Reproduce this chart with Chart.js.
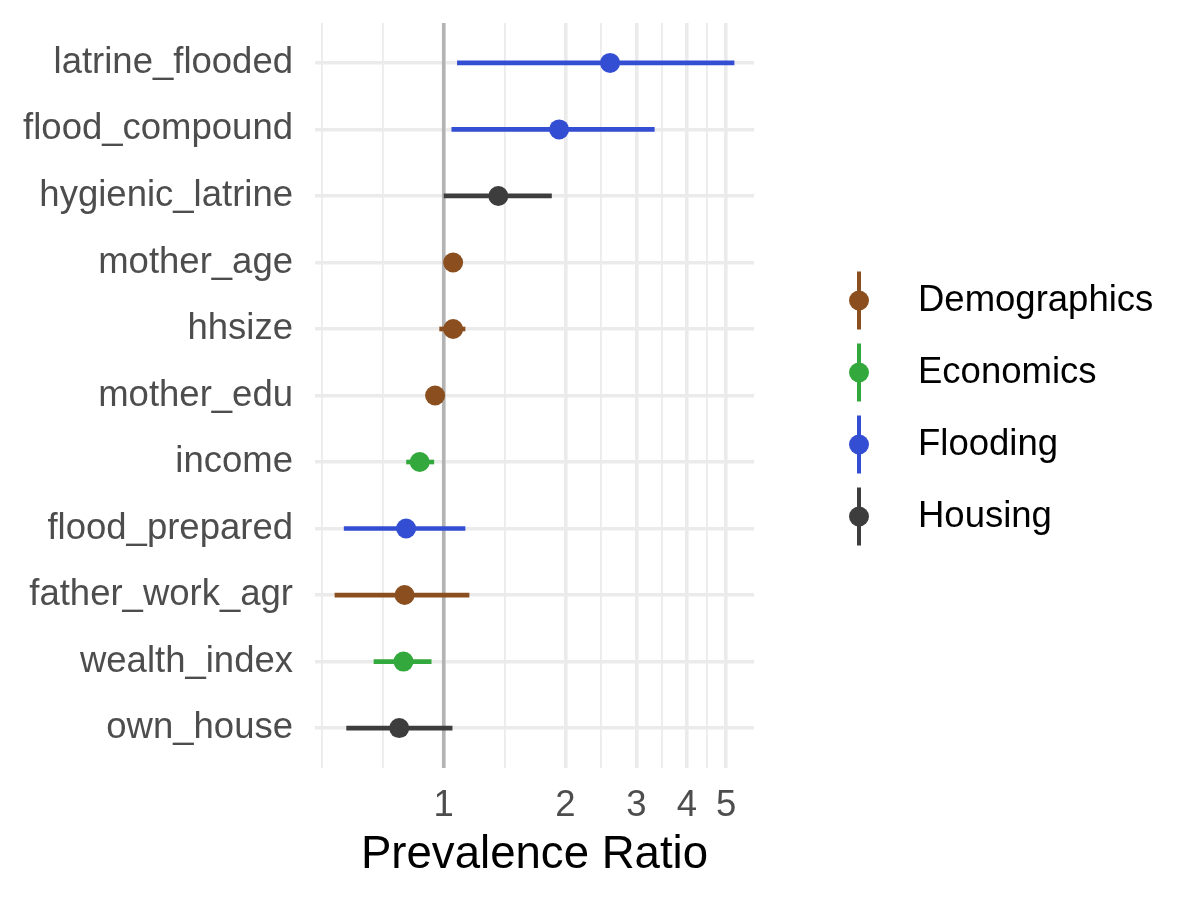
<!DOCTYPE html>
<html>
<head>
<meta charset="utf-8">
<script src="https://cdn.jsdelivr.net/npm/chart.js@4/dist/chart.umd.min.js"></script>
<style>
  html, body { margin: 0; padding: 0; background: #ffffff; }
  #wrap { width: 1200px; height: 900px; }
</style>
</head>
<body>
<div id="wrap"><canvas id="c" width="1200" height="900"></canvas></div>
<script>
// ---- data (top-to-bottom order) ----
const variables = ['latrine_flooded','flood_compound','hygienic_latrine','mother_age','hhsize','mother_edu','income','flood_prepared','father_work_agr','wealth_index','own_house'];
const groupOf   = ['Flooding','Flooding','Housing','Demographics','Demographics','Demographics','Economics','Flooding','Demographics','Economics','Housing'];
const estimate  = [2.58, 1.93, 1.365, 1.055, 1.055, 0.952, 0.872, 0.807, 0.800, 0.795, 0.776];
const lowerCI   = [1.081, 1.047, 1.002, 1.035, 0.977, 0.930, 0.809, 0.567, 0.538, 0.672, 0.575];
const upperCI   = [5.23, 3.32, 1.848, 1.075, 1.129, 0.975, 0.945, 1.129, 1.155, 0.931, 1.049];

const groupNames  = ['Demographics','Economics','Flooding','Housing'];
const groupColors = ['#8B4F1F','#33A93D','#344ED3','#3D3D3D'];

const xTickValues = [1, 2, 3, 4, 5];
const xTickLabels = ['1', '2', '3', '4', '5'];
const referenceValue = 1;
const xTitle = 'Prevalence Ratio';

// ---- helpers ----
const FONT = "'Liberation Sans', Arial, Helvetica, sans-serif";
const colorOf = g => groupColors[groupNames.indexOf(g)];

// minor breaks like ggplot (midpoints in log space, extended one step below)
const logMaj = xTickValues.map(Math.log10);
const stepL = logMaj[1] - logMaj[0];
const extMaj = [logMaj[0] - stepL, ...logMaj];
const minorLogs = [];
for (let i = 0; i < extMaj.length - 1; i++) {
  minorLogs.push(extMaj[i], (extMaj[i] + extMaj[i + 1]) / 2);
}
const gridValues = [...new Set([...minorLogs.map(v => +Math.pow(10, v).toFixed(6)), ...xTickValues])].sort((a, b) => a - b);

// x limits: data range in log space expanded by 5%
const lmin = Math.log10(Math.min(...lowerCI));
const lmax = Math.log10(Math.max(...upperCI));
const lpad = (lmax - lmin) * 0.05;
const xMin = Math.pow(10, lmin - lpad);
const xMax = Math.pow(10, lmax + lpad);

// ---- datasets ----
const ciDataset = {
  type: 'bar',
  indexAxis: 'y',
  data: variables.map((v, i) => ({ y: i, x: [lowerCI[i], upperCI[i]] })),
  backgroundColor: groupOf.map(colorOf),
  borderWidth: 0,
  barThickness: 4,
  grouped: false,
  order: 2
};
const pointDatasets = groupNames.map((g, gi) => ({
  type: 'scatter',
  label: g,
  data: variables.map((v, i) => groupOf[i] === g ? { x: estimate[i], y: i } : null).filter(Boolean),
  backgroundColor: groupColors[gi],
  borderWidth: 0,
  pointRadius: 10,
  pointHoverRadius: 10,
  order: 1
}));

// ---- plugins ----
const refLinePlugin = {
  id: 'refLine',
  beforeDatasetsDraw(chart) {
    const { ctx, chartArea, scales } = chart;
    const x = scales.x.getPixelForValue(referenceValue);
    ctx.save();
    ctx.strokeStyle = '#B3B3B3';
    ctx.lineWidth = 3.6;
    ctx.beginPath();
    ctx.moveTo(x, chartArea.top);
    ctx.lineTo(x, chartArea.bottom);
    ctx.stroke();
    ctx.restore();
  }
};

const legendPlugin = {
  id: 'groupLegend',
  afterDraw(chart) {
    const { ctx, chartArea } = chart;
    const cy0 = (chartArea.top + chartArea.bottom) / 2 + 13;
    const step = 72;
    const kx = chartArea.right + 105;
    const tx = chartArea.right + 164;
    groupNames.forEach((g, i) => {
      const cy = cy0 + (i - (groupNames.length - 1) / 2) * step;
      ctx.save();
      ctx.strokeStyle = groupColors[i];
      ctx.lineWidth = 4;
      ctx.beginPath();
      ctx.moveTo(kx, cy - 29);
      ctx.lineTo(kx, cy + 29);
      ctx.stroke();
      ctx.fillStyle = groupColors[i];
      ctx.beginPath();
      ctx.arc(kx, cy, 10, 0, Math.PI * 2);
      ctx.fill();
      ctx.fillStyle = '#000000';
      ctx.font = '36.5px ' + FONT;
      ctx.textBaseline = 'middle';
      ctx.textAlign = 'left';
      ctx.fillText(g, tx, cy);
      ctx.restore();
    });
  }
};

new Chart(document.getElementById('c'), {
  type: 'scatter',
  data: { datasets: [ciDataset, ...pointDatasets] },
  options: {
    responsive: false,
    devicePixelRatio: 1,
    animation: false,
    events: [],
    layout: { padding: { top: 23, right: 446, bottom: 0, left: 0 } },
    plugins: {
      legend: { display: false },
      tooltip: { enabled: false },
      title: { display: false }
    },
    scales: {
      x: {
        type: 'logarithmic',
        min: xMin,
        max: xMax,
        offset: false,
        border: { display: false },
        grid: {
          offset: false,
          drawTicks: false,
          color: '#EBEBEB',
          lineWidth: ctx => (ctx.tick && xTickValues.includes(ctx.tick.value)) ? 3.6 : 1.8
        },
        ticks: {
          autoSkip: false,
          maxRotation: 0,
          padding: 16,
          color: '#4D4D4D',
          font: { family: FONT, size: 36.5 },
          callback: (value) => {
            const k = xTickValues.indexOf(value);
            return k >= 0 ? xTickLabels[k] : '';
          }
        },
        afterBuildTicks: scale => { scale.ticks = gridValues.map(v => ({ value: v })); },
        afterFit: scale => { scale.height = 132; scale.paddingLeft = 0; scale.paddingRight = 0; },
        title: {
          display: true,
          text: xTitle,
          color: '#000000',
          font: { family: FONT, size: 45.6 },
          padding: { top: 0, bottom: 17 }
        }
      },
      y: {
        type: 'linear',
        reverse: true,
        offset: false,
        min: -0.6,
        max: variables.length - 1 + 0.6,
        border: { display: false },
        grid: { offset: false, drawTicks: false, color: '#EBEBEB', lineWidth: 3.6 },
        ticks: {
          padding: 22,
          color: '#4D4D4D',
          font: { family: FONT, size: 36.5 },
          callback: value => variables[value] ?? ''
        },
        afterBuildTicks: scale => { scale.ticks = variables.map((v, i) => ({ value: i })); },
        afterFit: scale => { scale.width = 315; scale.paddingTop = 0; scale.paddingBottom = 0; }
      }
    }
  },
  plugins: [refLinePlugin, legendPlugin]
});
</script>
</body>
</html>
